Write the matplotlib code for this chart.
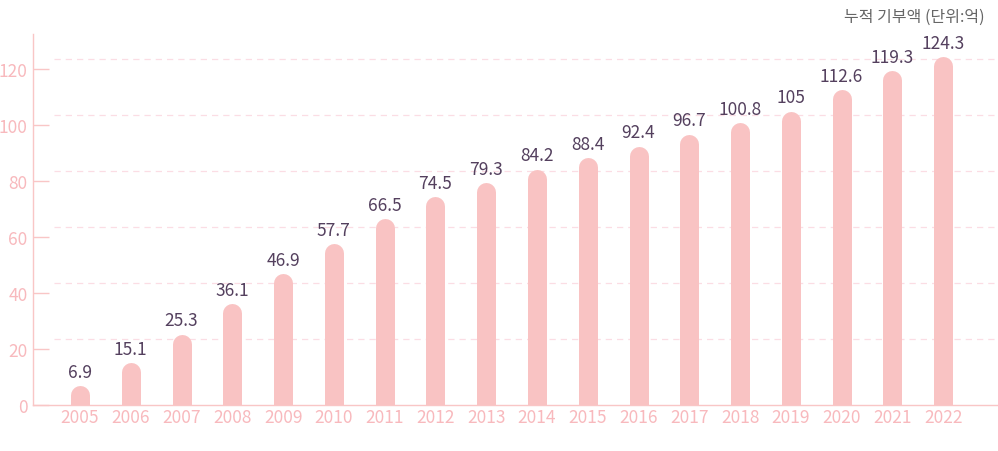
import matplotlib
matplotlib.use("Agg")
import matplotlib.pyplot as plt
import numpy as np

plt.rcParams['font.family'] = ['Noto Sans CJK KR', 'DejaVu Sans']

years = ['2005', '2006', '2007', '2008', '2009', '2010', '2011', '2012', '2013',
         '2014', '2015', '2016', '2017', '2018', '2019', '2020', '2021', '2022']
values = [6.9, 15.1, 25.3, 36.1, 46.9, 57.7, 66.5, 74.5, 79.3,
          84.2, 88.4, 92.4, 96.7, 100.8, 105, 112.6, 119.3, 124.3]
value_labels = ['6.9', '15.1', '25.3', '36.1', '46.9', '57.7', '66.5', '74.5', '79.3',
                '84.2', '88.4', '92.4', '96.7', '100.8', '105', '112.6', '119.3', '124.3']
yticks = [0, 20, 40, 60, 80, 100, 120]
title = '누적 기부액 (단위:억)'

W, H = 998, 452
fig = plt.figure(figsize=(W / 100, H / 100), dpi=100)
ax = fig.add_axes([33 / W, 46 / H, 965 / W, 371 / H])

bar_color = '#f9c3c3'
axis_color = '#f9c6c6'
tick_color = '#f8b9bd'
label_color = '#54405e'
grid_color = '#fbdde4'

ax.set_xlim(-0.925, 18.08)
ax.set_ylim(0, 132.5)

fig.canvas.draw()
px_per_unit = ax.transData.transform((0, 1))[1] - ax.transData.transform((0, 0))[1]
bar_w_px = 19
r_data = (bar_w_px / 2) / px_per_unit
lw_pt = bar_w_px * 72 / 100

x = np.arange(len(years))
for xi, v in zip(x, values):
    ax.plot([xi, xi], [-10, v - r_data], color=bar_color, lw=lw_pt,
            solid_capstyle='round', zorder=3)

for xi, v, lab in zip(x, values, value_labels):
    ax.annotate(lab, (xi, v), xytext=(0, 3.5), textcoords='offset points',
                ha='center', va='bottom', fontsize=12.5, color=label_color,
                fontweight='medium', zorder=4)

grid_off = 10 / px_per_unit
for t in yticks[1:]:
    ax.axhline(t + grid_off, xmin=21 / 965, xmax=1, color=grid_color, lw=0.9,
               dashes=(5, 4), zorder=1)

ax.set_yticks(yticks)
ax.set_yticklabels([str(t) for t in yticks])
ax.set_xticks(x)
ax.set_xticklabels(years)
ax.tick_params(axis='y', direction='in', length=11.5, width=1, color=axis_color,
               labelcolor=tick_color, labelsize=12.5, pad=4)
ax.tick_params(axis='x', length=0, labelcolor=tick_color, labelsize=12.5, pad=2)
for lab in ax.get_xticklabels() + ax.get_yticklabels():
    lab.set_fontweight('medium')

for s in ['top', 'right']:
    ax.spines[s].set_visible(False)
for s in ['left', 'bottom']:
    ax.spines[s].set_color(axis_color)
    ax.spines[s].set_linewidth(1)

fig.text(985 / W, 1 - 17 / H, title, ha='right', va='center', fontsize=11.5,
         color='#666666', fontweight='medium')

fig.savefig('out.png', dpi=100)
